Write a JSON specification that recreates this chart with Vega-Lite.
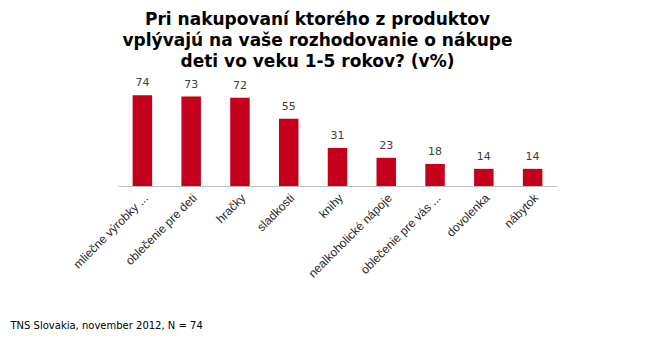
{
  "$schema": "https://vega.github.io/schema/vega-lite/v6.json",
  "width": 439,
  "height": 98,
  "autosize": "none",
  "padding": {"left": 118, "top": 88, "right": 93, "bottom": 170},
  "background": "white",
  "config": {"view": {"stroke": null}},
  "title": {
    "text": ["Pri nakupovaní ktorého z produktov", "vplývajú na vaše rozhodovanie o nákupe", "deti vo veku 1-5 rokov? (v%)"],
    "font": "DejaVu Sans",
    "fontSize": 17,
    "fontWeight": "bold",
    "color": "#000000",
    "anchor": "middle",
    "dx": -20,
    "lineHeight": 21,
    "offset": 6
  },
  "data": {
    "values": [
      {"kategoria": "mliečne výrobky ...", "hodnota": 74},
      {"kategoria": "oblečenie pre deti", "hodnota": 73},
      {"kategoria": "hračky", "hodnota": 72},
      {"kategoria": "sladkosti", "hodnota": 55},
      {"kategoria": "knihy", "hodnota": 31},
      {"kategoria": "nealkoholické nápoje", "hodnota": 23},
      {"kategoria": "oblečenie pre vás ...", "hodnota": 18},
      {"kategoria": "dovolenka", "hodnota": 14},
      {"kategoria": "nábytok", "hodnota": 14}
    ]
  },
  "encoding": {
    "x": {
      "field": "kategoria",
      "type": "nominal",
      "sort": null,
      "scale": {"paddingInner": 0.6, "paddingOuter": 0.3},
      "axis": {
        "title": "TNS Slovakia, november 2012, N = 74",
        "titleFont": "DejaVu Sans",
        "titleFontSize": 10,
        "titleFontWeight": "normal",
        "titleColor": "#000000",
        "titleAnchor": "start",
        "titleAlign": "left",
        "titleBaseline": "middle",
        "titleX": -108,
        "titleY": 139,
        "labelAngle": -45,
        "labelFont": "Liberation Sans",
        "labelFontSize": 12,
        "labelColor": "#262626",
        "labelPadding": 6,
        "ticks": false,
        "domainColor": "#bfbfbf",
        "labelLimit": 200
      }
    },
    "y": {
      "field": "hodnota",
      "type": "quantitative",
      "scale": {"domain": [0, 80]},
      "axis": null
    }
  },
  "layer": [
    {"mark": {"type": "bar", "color": "#c4001c"}},
    {
      "mark": {"type": "text", "dy": -7, "baseline": "bottom", "font": "DejaVu Sans", "fontSize": 11, "color": "#404040"},
      "encoding": {"text": {"field": "hodnota", "type": "quantitative"}}
    }
  ]
}
